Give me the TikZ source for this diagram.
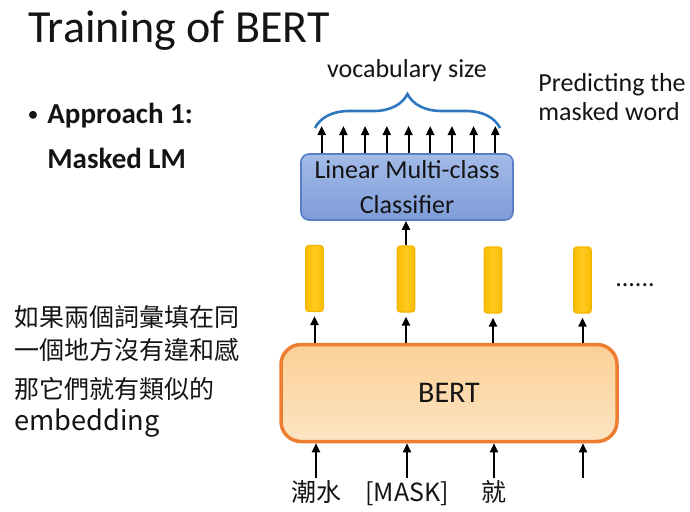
\documentclass[tikz,border=0pt]{standalone}
\usepackage{fontspec}
\setmainfont{Carlito}
\newfontfamily\cjk{Noto Sans CJK TC}
\usetikzlibrary{arrows.meta, decorations.pathreplacing, positioning}

\definecolor{clfline}{HTML}{5A7EC6}
\definecolor{clftop}{HTML}{A3BBE8}
\definecolor{clfbot}{HTML}{7E9CD8}
\definecolor{braceblue}{HTML}{2F78C0}
\definecolor{vecfill}{HTML}{FABC00}
\definecolor{vecmid}{HTML}{FFCA22}
\definecolor{vecline}{HTML}{F2B600}
\definecolor{bertline}{HTML}{ED7D31}
\definecolor{berttop}{HTML}{FBD095}
\definecolor{bertbot}{HTML}{FDE4C4}

\begin{document}
\begin{tikzpicture}[x=0.5pt, y=-0.5pt,
    every node/.style={inner sep=0pt, text=black!92},
    up/.style={-{Triangle[length=4.5pt, width=4pt]}, line width=1pt},
    vec/.style={draw=vecline, line width=0.6pt, left color=vecfill, right color=vecfill,
      middle color=vecmid, rounded corners=1.5pt, minimum width=8.8pt, minimum height=33pt},
    tok/.style={font=\cjk\fontsize{12.5}{14}\selectfont, inner sep=1pt,
      text height=10.5pt, text depth=2.5pt},
    body/.style={font=\fontsize{13}{14}\selectfont, anchor=base west},
    bold/.style={font=\bfseries\fontsize{14.5}{16}\selectfont},
    zh/.style={font=\cjk\fontsize{12.5}{14}\selectfont, anchor=base west}]
    \useasboundingbox (0,0) rectangle (690,511);

    % title and bullet
    \node (title) at (28,42) [anchor=base west, font=\fontsize{23}{26}\selectfont] {Training of BERT};
    \node (dot) at (33,116) [font=\fontsize{11}{12}\selectfont] {\textbullet};
    \node (appr) at (47,123) [bold, anchor=base west] {Approach 1:};
    \node (mlm) at (47,168) [bold, anchor=base west] {Masked LM};

    % classifier and its outputs
    \node (clf) at (407,187) [draw=clfline, line width=0.8pt, top color=clftop, bottom color=clfbot,
      rounded corners=4pt, minimum width=106pt, minimum height=33pt, align=center,
      font=\fontsize{13}{17.5}\selectfont] {Linear Multi-class\\Classifier};
    \foreach \i in {0,...,8}
        \coordinate (out\i) at (321.7+21.7*\i,126);
    \foreach \i in {0,...,8}
        \draw[up] (clf.north -| out\i) -- (out\i);
    \draw[braceblue, line width=1.3pt, decorate, decoration={brace, amplitude=17pt}] (315,128) -- (500,128);
    \node (vocab) at (407,77) [anchor=base, font=\fontsize{13}{14}\selectfont] {vocabulary size};
    \node (pred) at (538,91) [body] {Predicting the};
    \node (pred2) at (538,120) [body] {masked word};

    % output vectors
    \node (bar1) at (314.5,278.5) [vec] {};
    \node (bar2) at (406,279) [vec] {};
    \node (bar3) at (493,280) [vec] {};
    \node (bar4) at (582.5,280) [vec] {};
    \node (more) at (635,285) [font=\fontsize{13}{14}\selectfont] {......};
    \draw[up] (bar2.north) -- (clf.south -| bar2);

    % BERT
    \node (bert) at (449,393) [draw=bertline, line width=1.75pt, top color=berttop, bottom color=bertbot,
      rounded corners=10pt, minimum width=168pt, minimum height=48.5pt,
      font=\fontsize{15}{18}\selectfont] {BERT};
    \foreach \b in {bar1,bar2,bar3,bar4}
        \draw[up, shorten >=2pt] (bert.north -| \b) -- (\b.south);

    % input tokens
    \node (t1) at (316,493) [tok] {潮水};
    \node (t2) at (407,493) [tok] {[MASK]};
    \node (t3) at (494,493) [tok] {就};
    \coordinate (t4) at (583,478);
    \foreach \t in {t1,t2,t3}
        \draw[up] (\t.north) -- (bert.south -| \t);
    \draw[up] (t4) -- (bert.south -| t4);

    % left text
    \node (zh1) at (14,326.5) [zh] {如果兩個詞彙填在同};
    \node (zh2) at (14,359.5) [zh] {一個地方沒有違和感};
    \node (zh3) at (14,398.5) [zh] {那它們就有類似的};
    \node (zh4) at (14,430) [zh, font=\cjk\fontsize{13.6}{16}\selectfont] {embedding};
\end{tikzpicture}
\end{document}
